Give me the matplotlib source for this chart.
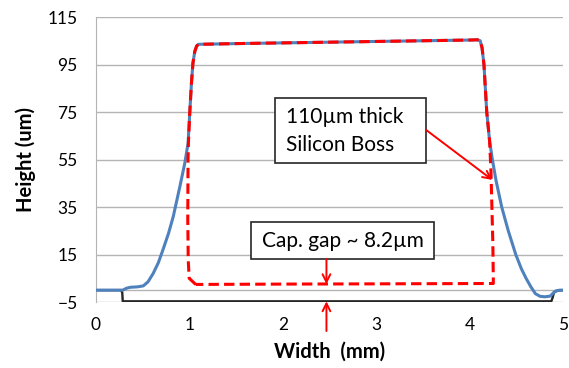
import matplotlib.pyplot as plt
from matplotlib.patches import Rectangle

plt.rcParams['font.family'] = ['Lato', 'DejaVu Sans']

# measured profile (blue)
blue_x = [0.0, 0.29, 0.33, 0.37, 0.45, 0.51, 0.56, 0.615, 0.67, 0.72, 0.78, 0.83, 0.90,
          0.953, 0.988, 1.006, 1.024, 1.04, 1.06, 1.08, 1.10, 1.5, 2.0, 2.5, 3.0, 3.5,
          4.0, 4.08, 4.11, 4.13, 4.15, 4.18, 4.21, 4.24, 4.28, 4.34, 4.41, 4.49, 4.55,
          4.60, 4.65, 4.70, 4.75, 4.80, 4.86, 4.89, 4.92, 4.96, 5.0]
blue_y = [0.0, 0.0, 0.8, 1.2, 1.4, 1.8, 3.5, 7.0, 11.5, 17.0, 24.0, 31.0, 43.5,
          53.4, 61.8, 74.5, 87.0, 95.5, 100.5, 102.8, 103.5, 103.8, 104.1, 104.4, 104.7, 105.0,
          105.3, 105.4, 105.0, 102.0, 95.0, 75.0, 63.0, 55.0, 46.0, 35.0, 25.0, 15.0, 9.0,
          5.0, 1.5, -1.5, -2.6, -2.8, -2.5, -1.2, -0.3, 0.0, 0.0]

# silicon boss outline (red dashed)
red_x = [1.07, 1.0, 0.99, 0.985, 0.988, 0.992, 1.006, 1.024, 1.04, 1.06, 1.08, 1.10,
         1.5, 2.0, 2.5, 3.0, 3.5, 4.0, 4.08, 4.11, 4.13, 4.15, 4.18, 4.21, 4.225, 4.235,
         4.245, 4.25, 4.25, 3.0, 2.0, 1.07]
red_y = [2.4, 5.0, 12.7, 30.0, 55.0, 62.0, 74.5, 87.0, 95.5, 100.5, 102.8, 103.5,
         103.8, 104.1, 104.4, 104.7, 105.0, 105.3, 105.4, 105.0, 102.0, 95.0, 75.0, 63.0, 50.0, 35.0,
         20.0, 5.0, 2.8, 2.65, 2.55, 2.4]

# substrate (black)
black_x = [0.0, 0.27, 0.285, 0.29, 4.87, 4.885, 4.90, 4.95, 5.0]
black_y = [0.0, 0.0, -1.0, -4.7, -4.7, -3.0, -0.8, -0.1, 0.0]

y_ticks = [-5, 15, 35, 55, 75, 95, 115]
x_ticks = [0, 1, 2, 3, 4, 5]

fig = plt.figure(figsize=(5.69, 3.68), dpi=100)
ax = fig.add_axes([0.168, 0.1793, 0.8223, 0.7745])

ax.set_xlim(0, 5)
ax.set_ylim(-5, 115)
ax.set_yticks(y_ticks)
ax.set_xticks(x_ticks)
ax.yaxis.grid(True, color='#b4b4b4', lw=1.0)
ax.set_axisbelow(True)
ax.axhline(0, color='#b4b4b4', lw=1.0, zorder=0.5)
for s in ['top', 'right', 'bottom']:
    ax.spines[s].set_visible(False)
ax.spines['left'].set_color('#b4b4b4')
ax.tick_params(length=0, labelsize=12.5, colors='black')
ax.tick_params(axis='y', pad=13)
ax.tick_params(axis='x', pad=11)

ax.plot(black_x, black_y, color='#262626', lw=1.7, zorder=2)
ax.plot(blue_x, blue_y, color='#4f81bd', lw=2.2, zorder=3)
ax.plot(red_x, red_y, color='#ff0000', lw=2.2, dashes=(3.4, 1.7), zorder=4)

ax.set_xlabel('Width  (mm)', fontsize=14.5, fontweight='bold', labelpad=6)
ax.set_ylabel('Height (um)', fontsize=14.5, fontweight='bold', labelpad=8)

# annotation boxes
ax.add_patch(Rectangle((1.913, 53.7), 3.53 - 1.913, 80.8 - 53.7, facecolor='white',
                       edgecolor='#262626', lw=1.2, zorder=5))
ax.text(2.04, 72.9, '110µm thick', fontsize=15, va='center', ha='left', zorder=6)
ax.text(2.04, 61.1, 'Silicon Boss', fontsize=15, va='center', ha='left', zorder=6)
ax.annotate('', xy=(4.24, 46.4), xytext=(3.53, 67.5),
            arrowprops=dict(arrowstyle='->', color='#ff0000', lw=1.4, shrinkA=0, shrinkB=0,
                            mutation_scale=14), zorder=6)

ax.add_patch(Rectangle((1.66, 13.1), 3.62 - 1.66, 28.7 - 13.1, facecolor='white',
                       edgecolor='#262626', lw=1.2, zorder=5))
ax.text(2.64, 20.9, 'Cap. gap ~ 8.2µm', fontsize=15, va='center', ha='center', zorder=6)
ax.annotate('', xy=(2.467, 2.5), xytext=(2.467, 13.1),
            arrowprops=dict(arrowstyle='->', color='#ff0000', lw=1.4, shrinkA=0, shrinkB=0,
                            mutation_scale=14), zorder=6)
ax.annotate('', xy=(2.467, -4.7), xytext=(2.467, -17.2), annotation_clip=False,
            arrowprops=dict(arrowstyle='->', color='#ff0000', lw=1.4, shrinkA=0, shrinkB=0,
                            mutation_scale=14), zorder=6)

fig.savefig('out.png', dpi=100)
